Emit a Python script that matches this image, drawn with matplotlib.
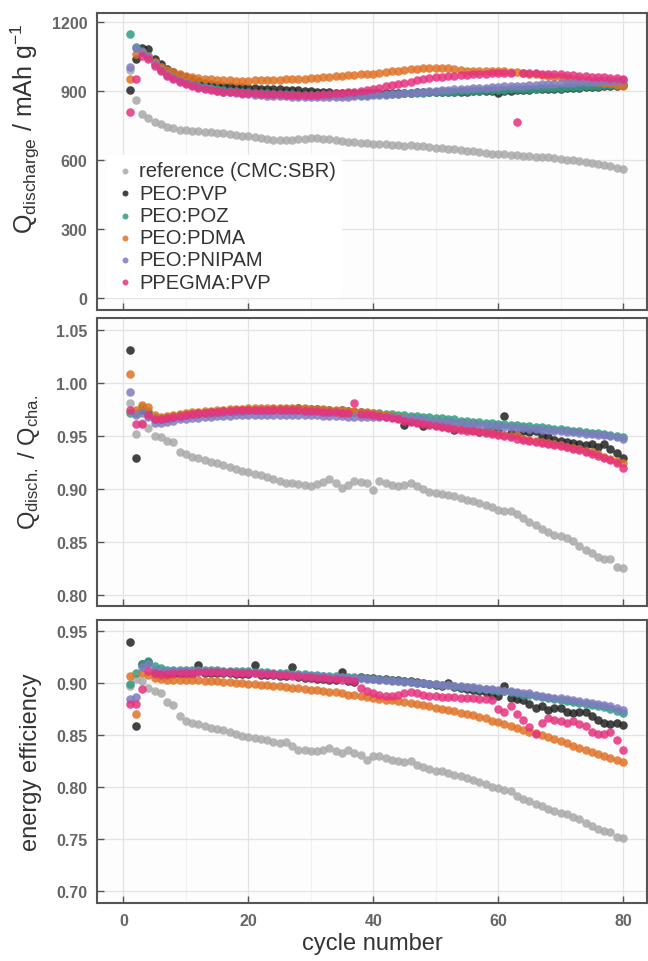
import numpy as np
import matplotlib
matplotlib.use("Agg")
import matplotlib.pyplot as plt
from matplotlib.ticker import MultipleLocator

plt.rcParams['font.family'] = ['Liberation Sans', 'DejaVu Sans']
plt.rcParams['mathtext.fontset'] = 'custom'
plt.rcParams['mathtext.rm'] = 'Liberation Sans'
plt.rcParams['mathtext.it'] = 'Liberation Sans:italic'

cycles = list(range(1, 81))
labels = ['reference (CMC:SBR)', 'PEO:PVP', 'PEO:POZ', 'PEO:PDMA', 'PEO:PNIPAM', 'PPEGMA:PVP']
colors = ['#a9a9a9', '#222222', '#2f9e80', '#e07326', '#7f7bc0', '#e5327f']

# discharge capacity / mAh g-1
ref_cap = [990, 860, 800, 780, 765, 755, 745, 738, 732, 728,
           725, 724, 722, 720, 718, 716, 712, 708, 705, 702,
           698, 694, 690, 688, 686, 685, 686, 689, 692, 694,
           695, 693, 690, 686, 683, 680, 678, 675, 672, 668,
           670, 668, 665, 663, 662, 663, 661, 659, 656, 654,
           652, 649, 646, 643, 640, 637, 634, 631, 628, 626,
           624, 622, 621, 619, 617, 615, 613, 611, 608, 605,
           602, 598, 594, 590, 586, 582, 577, 572, 566, 561]
pvp_cap = [902, 1040, 1085, 1080, 1040, 1015, 995, 980, 968, 958,
           950, 942, 936, 930, 926, 922, 919, 917, 915, 913,
           911, 910, 908, 907, 906, 905, 904, 902, 900, 898,
           896, 894, 893, 892, 891, 890, 890, 889, 889, 889,
           889, 890, 890, 891, 892, 892, 893, 894, 894, 895,
           895, 896, 896, 897, 897, 898, 898, 899, 899, 892,
           900, 901, 902, 903, 905, 906, 907, 908, 909, 910,
           912, 913, 914, 916, 917, 918, 920, 921, 923, 925]
poz_cap = [1145, 1090, 1075, 1050, 1020, 995, 975, 960, 948, 938,
           930, 922, 916, 911, 907, 904, 901, 898, 896, 894,
           892, 890, 889, 888, 887, 886, 885, 884, 884, 883,
           883, 882, 882, 882, 882, 883, 883, 884, 884, 885,
           886, 887, 888, 888, 889, 890, 891, 892, 893, 894,
           895, 896, 897, 898, 899, 900, 901, 902, 903, 904,
           905, 906, 907, 908, 909, 910, 911, 912, 913, 914,
           916, 917, 918, 920, 921, 922, 924, 925, 927, 928]
pdma_cap = [950, 1060, 1070, 1050, 1025, 1005, 990, 980, 972, 965,
            960, 956, 952, 950, 948, 946, 945, 944, 944, 944,
            945, 946, 947, 948, 949, 950, 951, 952, 953, 955,
            957, 959, 961, 963, 965, 967, 969, 971, 973, 975,
            978, 981, 984, 987, 990, 993, 996, 998, 1000, 1001,
            1000, 998, 994, 990, 987, 985, 984, 984, 985, 986,
            985, 983, 980, 977, 974, 971, 968, 965, 962, 959,
            956, 953, 950, 947, 944, 940, 936, 932, 927, 922]
pnipam_cap = [1005, 1085, 1070, 1045, 1015, 990, 970, 955, 943, 933,
              925, 918, 912, 906, 901, 897, 893, 890, 887, 885,
              883, 881, 879, 878, 877, 876, 875, 874, 874, 873,
              873, 873, 873, 874, 874, 875, 876, 877, 878, 880,
              882, 884, 886, 888, 890, 892, 894, 896, 898, 900,
              902, 904, 906, 908, 910, 911, 913, 914, 916, 917,
              919, 920, 922, 923, 925, 926, 928, 929, 931, 932,
              934, 935, 937, 938, 940, 941, 942, 943, 944, 945]
ppegma_cap = [810, 950, 1050, 1040, 1010, 985, 965, 950, 938, 928,
              920, 913, 907, 903, 900, 897, 895, 893, 891, 890,
              889, 888, 887, 886, 885, 884, 884, 883, 883, 883,
              884, 885, 887, 889, 891, 894, 897, 901, 905, 909,
              914, 919, 924, 930, 935, 940, 945, 950, 954, 958,
              961, 964, 966, 968, 970, 972, 974, 975, 976, 977,
              978, 979, 765, 978, 977, 976, 975, 974, 973, 972,
              970, 968, 966, 964, 962, 960, 958, 956, 954, 952]

# Qdisch / Qcha
ref_ce = [0.982, 0.952, 0.963, 0.958, 0.950, 0.949, 0.946, 0.945, 0.935, 0.933,
          0.931, 0.930, 0.928, 0.926, 0.925, 0.923, 0.921, 0.919, 0.917, 0.916,
          0.915, 0.914, 0.912, 0.910, 0.908, 0.906, 0.906, 0.905, 0.904, 0.903,
          0.905, 0.907, 0.910, 0.906, 0.901, 0.904, 0.908, 0.907, 0.906, 0.899,
          0.908, 0.906, 0.904, 0.903, 0.904, 0.906, 0.903, 0.900, 0.898, 0.897,
          0.896, 0.895, 0.894, 0.892, 0.890, 0.889, 0.887, 0.885, 0.883, 0.881,
          0.880, 0.880, 0.877, 0.873, 0.869, 0.866, 0.863, 0.860, 0.857, 0.856,
          0.854, 0.851, 0.847, 0.843, 0.840, 0.836, 0.834, 0.834, 0.827, 0.826]
pvp_ce = [1.032, 0.930, 0.975, 0.972, 0.966, 0.966, 0.967, 0.968, 0.969, 0.970,
          0.971, 0.971, 0.972, 0.972, 0.973, 0.973, 0.974, 0.974, 0.974, 0.975,
          0.975, 0.975, 0.975, 0.976, 0.976, 0.976, 0.976, 0.977, 0.976, 0.976,
          0.976, 0.975, 0.975, 0.974, 0.975, 0.974, 0.973, 0.973, 0.972, 0.971,
          0.970, 0.969, 0.968, 0.967, 0.961, 0.965, 0.964, 0.960, 0.962, 0.961,
          0.960, 0.959, 0.956, 0.958, 0.957, 0.956, 0.954, 0.955, 0.955, 0.954,
          0.969, 0.953, 0.952, 0.955, 0.954, 0.955, 0.950, 0.949, 0.947, 0.946,
          0.945, 0.944, 0.943, 0.942, 0.943, 0.940, 0.943, 0.938, 0.934, 0.930]
poz_ce = [0.972, 0.972, 0.978, 0.974, 0.968, 0.967, 0.968, 0.969, 0.970, 0.971,
          0.971, 0.972, 0.972, 0.973, 0.973, 0.974, 0.974, 0.974, 0.975, 0.975,
          0.975, 0.975, 0.975, 0.975, 0.975, 0.975, 0.975, 0.975, 0.975, 0.975,
          0.975, 0.974, 0.974, 0.974, 0.974, 0.973, 0.973, 0.973, 0.972, 0.972,
          0.972, 0.971, 0.971, 0.970, 0.970, 0.969, 0.969, 0.968, 0.968, 0.967,
          0.967, 0.966, 0.966, 0.965, 0.965, 0.964, 0.964, 0.963, 0.963, 0.962,
          0.962, 0.961, 0.961, 0.960, 0.960, 0.959, 0.959, 0.958, 0.957, 0.957,
          0.956, 0.955, 0.955, 0.954, 0.953, 0.953, 0.952, 0.951, 0.950, 0.949]
pdma_ce = [1.009, 0.975, 0.980, 0.978, 0.970, 0.968, 0.969, 0.970, 0.971, 0.972,
           0.973, 0.973, 0.974, 0.974, 0.975, 0.975, 0.976, 0.976, 0.976, 0.977,
           0.977, 0.977, 0.977, 0.977, 0.977, 0.977, 0.977, 0.977, 0.977, 0.976,
           0.976, 0.976, 0.975, 0.975, 0.975, 0.974, 0.974, 0.973, 0.973, 0.972,
           0.971, 0.970, 0.969, 0.968, 0.967, 0.966, 0.965, 0.964, 0.963, 0.962,
           0.961, 0.960, 0.959, 0.958, 0.957, 0.956, 0.955, 0.954, 0.953, 0.952,
           0.951, 0.950, 0.951, 0.948, 0.947, 0.946, 0.945, 0.944, 0.943, 0.942,
           0.940, 0.939, 0.938, 0.936, 0.935, 0.933, 0.931, 0.929, 0.927, 0.925]
pnipam_ce = [0.992, 0.970, 0.972, 0.968, 0.963, 0.963, 0.964, 0.965, 0.966, 0.966,
             0.967, 0.967, 0.968, 0.968, 0.969, 0.969, 0.969, 0.970, 0.970, 0.970,
             0.970, 0.970, 0.970, 0.970, 0.970, 0.970, 0.970, 0.970, 0.970, 0.970,
             0.970, 0.969, 0.969, 0.969, 0.969, 0.968, 0.968, 0.968, 0.968, 0.968,
             0.968, 0.968, 0.968, 0.967, 0.967, 0.967, 0.966, 0.966, 0.965, 0.965,
             0.964, 0.964, 0.963, 0.963, 0.962, 0.962, 0.961, 0.961, 0.960, 0.960,
             0.959, 0.959, 0.958, 0.958, 0.957, 0.957, 0.956, 0.956, 0.955, 0.955,
             0.954, 0.954, 0.953, 0.952, 0.952, 0.951, 0.951, 0.950, 0.949, 0.948]
ppegma_ce = [0.975, 0.962, 0.962, 0.970, 0.966, 0.966, 0.967, 0.968, 0.969, 0.970,
             0.971, 0.972, 0.972, 0.973, 0.973, 0.974, 0.974, 0.975, 0.975, 0.975,
             0.975, 0.975, 0.975, 0.975, 0.975, 0.975, 0.975, 0.975, 0.974, 0.974,
             0.974, 0.973, 0.973, 0.973, 0.972, 0.972, 0.982, 0.971, 0.971, 0.970,
             0.969, 0.968, 0.967, 0.966, 0.965, 0.964, 0.963, 0.962, 0.961, 0.960,
             0.959, 0.958, 0.957, 0.956, 0.955, 0.955, 0.954, 0.953, 0.952, 0.951,
             0.950, 0.949, 0.948, 0.947, 0.946, 0.945, 0.944, 0.943, 0.942, 0.941,
             0.940, 0.938, 0.937, 0.935, 0.933, 0.932, 0.930, 0.928, 0.925, 0.920]

# energy efficiency
ref_ee = [0.897, 0.904, 0.902, 0.895, 0.892, 0.890, 0.882, 0.879, 0.868, 0.864,
          0.862, 0.861, 0.859, 0.857, 0.856, 0.855, 0.853, 0.851, 0.849, 0.848,
          0.847, 0.846, 0.845, 0.843, 0.842, 0.843, 0.840, 0.836, 0.836, 0.835,
          0.835, 0.836, 0.838, 0.835, 0.833, 0.836, 0.833, 0.831, 0.826, 0.830,
          0.830, 0.828, 0.826, 0.825, 0.824, 0.825, 0.821, 0.819, 0.817, 0.816,
          0.816, 0.814, 0.812, 0.811, 0.809, 0.807, 0.805, 0.803, 0.800, 0.799,
          0.797, 0.796, 0.792, 0.789, 0.787, 0.784, 0.782, 0.779, 0.777, 0.775,
          0.774, 0.771, 0.769, 0.766, 0.763, 0.760, 0.758, 0.757, 0.752, 0.751]
pvp_ee = [0.939, 0.859, 0.918, 0.920, 0.909, 0.908, 0.908, 0.909, 0.909, 0.909,
          0.909, 0.917, 0.910, 0.910, 0.910, 0.910, 0.910, 0.909, 0.909, 0.909,
          0.917, 0.908, 0.908, 0.908, 0.907, 0.907, 0.915, 0.906, 0.905, 0.905,
          0.904, 0.904, 0.903, 0.903, 0.911, 0.902, 0.901, 0.906, 0.905, 0.905,
          0.904, 0.904, 0.903, 0.903, 0.902, 0.902, 0.901, 0.900, 0.899, 0.898,
          0.897, 0.900, 0.896, 0.895, 0.894, 0.893, 0.892, 0.891, 0.889, 0.888,
          0.897, 0.886, 0.885, 0.884, 0.880, 0.876, 0.878, 0.874, 0.876, 0.876,
          0.872, 0.871, 0.872, 0.872, 0.868, 0.865, 0.862, 0.861, 0.862, 0.860]
poz_ee = [0.899, 0.910, 0.918, 0.921, 0.916, 0.914, 0.913, 0.913, 0.913, 0.913,
          0.913, 0.913, 0.913, 0.913, 0.913, 0.912, 0.912, 0.912, 0.912, 0.912,
          0.911, 0.911, 0.911, 0.910, 0.910, 0.910, 0.909, 0.909, 0.909, 0.908,
          0.908, 0.907, 0.907, 0.907, 0.906, 0.906, 0.906, 0.905, 0.905, 0.904,
          0.904, 0.903, 0.903, 0.902, 0.902, 0.901, 0.900, 0.900, 0.899, 0.899,
          0.898, 0.898, 0.897, 0.896, 0.896, 0.895, 0.894, 0.894, 0.893, 0.892,
          0.892, 0.891, 0.890, 0.889, 0.889, 0.888, 0.887, 0.886, 0.885, 0.884,
          0.883, 0.882, 0.881, 0.880, 0.879, 0.878, 0.877, 0.875, 0.873, 0.871]
pdma_ee = [0.907, 0.870, 0.910, 0.908, 0.905, 0.904, 0.903, 0.903, 0.903, 0.903,
           0.903, 0.903, 0.902, 0.902, 0.902, 0.901, 0.901, 0.900, 0.900, 0.899,
           0.899, 0.898, 0.898, 0.897, 0.897, 0.896, 0.895, 0.895, 0.894, 0.893,
           0.893, 0.892, 0.891, 0.891, 0.890, 0.889, 0.889, 0.888, 0.887, 0.886,
           0.885, 0.884, 0.884, 0.883, 0.882, 0.881, 0.880, 0.879, 0.878, 0.876,
           0.875, 0.874, 0.873, 0.871, 0.870, 0.869, 0.867, 0.866, 0.864, 0.863,
           0.861, 0.859, 0.857, 0.855, 0.853, 0.852, 0.850, 0.848, 0.846, 0.844,
           0.842, 0.840, 0.838, 0.836, 0.834, 0.832, 0.830, 0.828, 0.826, 0.824]
pnipam_ee = [0.885, 0.887, 0.915, 0.918, 0.913, 0.912, 0.912, 0.912, 0.912, 0.912,
             0.912, 0.912, 0.912, 0.912, 0.912, 0.911, 0.911, 0.911, 0.911, 0.911,
             0.910, 0.910, 0.910, 0.909, 0.909, 0.909, 0.908, 0.908, 0.908, 0.907,
             0.907, 0.907, 0.906, 0.906, 0.906, 0.905, 0.905, 0.905, 0.904, 0.904,
             0.903, 0.903, 0.902, 0.902, 0.901, 0.901, 0.900, 0.900, 0.899, 0.899,
             0.898, 0.898, 0.897, 0.897, 0.896, 0.896, 0.895, 0.894, 0.894, 0.893,
             0.892, 0.892, 0.891, 0.890, 0.890, 0.889, 0.888, 0.887, 0.886, 0.886,
             0.885, 0.884, 0.883, 0.882, 0.881, 0.880, 0.879, 0.878, 0.876, 0.874]
ppegma_ee = [0.880, 0.880, 0.894, 0.912, 0.910, 0.909, 0.909, 0.910, 0.910, 0.910,
             0.910, 0.911, 0.911, 0.911, 0.911, 0.911, 0.911, 0.910, 0.910, 0.910,
             0.910, 0.909, 0.909, 0.909, 0.908, 0.908, 0.907, 0.907, 0.906, 0.906,
             0.905, 0.905, 0.904, 0.904, 0.903, 0.903, 0.902, 0.895, 0.892, 0.890,
             0.889, 0.888, 0.888, 0.889, 0.890, 0.891, 0.890, 0.889, 0.888, 0.888,
             0.887, 0.887, 0.887, 0.886, 0.886, 0.886, 0.885, 0.885, 0.884, 0.875,
             0.872, 0.878, 0.870, 0.865, 0.858, 0.851, 0.862, 0.866, 0.865, 0.864,
             0.862, 0.864, 0.861, 0.859, 0.853, 0.851, 0.851, 0.853, 0.845, 0.836]

cap = [ref_cap, pvp_cap, poz_cap, pdma_cap, pnipam_cap, ppegma_cap]
ce = [ref_ce, pvp_ce, poz_ce, pdma_ce, pnipam_ce, ppegma_ce]
ee = [ref_ee, pvp_ee, poz_ee, pdma_ee, pnipam_ee, ppegma_ee]

fig = plt.figure(figsize=(6.48, 9.62), dpi=100)
ax1 = fig.add_axes([0.150, 0.677, 0.848, 0.308])
ax2 = fig.add_axes([0.150, 0.369, 0.848, 0.2997])
ax3 = fig.add_axes([0.150, 0.060, 0.848, 0.2945])

panels = [
    (ax1, cap, (-50, 1236), [0, 300, 600, 900, 1200],
     r'Q$_{\mathregular{discharge}}$ / mAh g$^{\mathregular{-1}}$', '{:.0f}', 18, 0.615),
    (ax2, ce, (0.790, 1.062), [0.80, 0.85, 0.90, 0.95, 1.00, 1.05],
     r'Q$_{\mathregular{disch.}}$ / Q$_{\mathregular{cha.}}$', '{:.2f}', 17, 0.5),
    (ax3, ee, (0.6885, 0.9606), [0.70, 0.75, 0.80, 0.85, 0.90, 0.95],
     'energy efficiency', '{:.2f}', 17, 0.5),
]

for ax, series, ylim, yticks, ylabel, fmt, lsize, ly in panels:
    ax.set_facecolor('#fdfdfd')
    for vals, lab, col in zip(series, labels, colors):
        ax.scatter(cycles, vals, s=38, color=col, alpha=0.85, linewidths=0, label=lab, zorder=3)
    ax.set_xlim(-4.2, 83.8)
    ax.set_ylim(*ylim)
    ax.set_xticks([0, 20, 40, 60, 80])
    ax.xaxis.set_minor_locator(MultipleLocator(10))
    ax.set_yticks(yticks)
    ax.set_yticklabels([fmt.format(v) for v in yticks])
    ax.grid(True, which='major', color='#e4e4e4', linewidth=0.9, zorder=0)
    ax.grid(True, which='minor', axis='x', color='#f1f1f1', linewidth=0.8, zorder=0)
    ax.tick_params(direction='in', length=5, width=1, color='#555555',
                   labelsize=11.5, labelcolor='#666666', pad=7)
    ax.tick_params(which='minor', length=0)
    for lbl in ax.get_yticklabels() + ax.get_xticklabels():
        lbl.set_fontweight('bold')
    for sp in ax.spines.values():
        sp.set_color('#555555')
        sp.set_linewidth(1.5)
    ax.set_ylabel(ylabel, fontsize=lsize, color='#333333')
    ax.yaxis.set_label_coords(-0.10, ly)

ax1.tick_params(labelbottom=False)
ax2.tick_params(labelbottom=False)
ax3.set_xlabel('cycle number', fontsize=17, color='#333333')
ax3.xaxis.set_label_coords(0.5, -0.1)

leg = ax1.legend(loc='upper left', bbox_to_anchor=(0.0, 0.555), frameon=True,
                 facecolor='white', edgecolor='none', framealpha=1.0,
                 fontsize=14.5, handletextpad=0.1, labelspacing=0.16,
                 borderpad=0.3, markerscale=0.7, handlelength=1.2)
for t in leg.get_texts():
    t.set_color('#333333')

fig.savefig('out.png', dpi=100)
